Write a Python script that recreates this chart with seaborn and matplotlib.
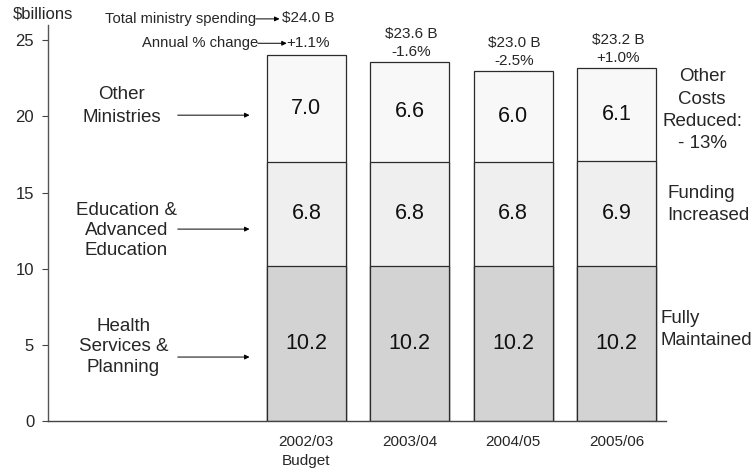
import matplotlib
matplotlib.use("Agg")
import matplotlib.pyplot as plt
import seaborn as sns
import pandas as pd

# values ($ billions)
years = ["2002/03", "2003/04", "2004/05", "2005/06"]
year_labels = ["2002/03\nBudget", "2003/04", "2004/05", "2005/06"]
health = [10.2, 10.2, 10.2, 10.2]
education = [6.8, 6.8, 6.8, 6.9]
other = [7.0, 6.6, 6.0, 6.1]
total_labels = ["$24.0 B", "$23.6 B", "$23.0 B", "$23.2 B"]
pct_change = ["+1.1%", "-1.6%", "-2.5%", "+1.0%"]

C_HEALTH = "#d3d3d3"
C_EDU = "#efefef"
C_OTHER = "#f8f8f8"
EDGE = "#2b2b2b"

sns.set_theme(style="ticks")
plt.rcParams["font.family"] = ["Liberation Sans", "DejaVu Sans"]

df = pd.DataFrame({"year": years, "health": health,
                   "education": education, "other": other})
df["edu_top"] = df["health"] + df["education"]
df["top"] = df["edu_top"] + df["other"]

fig = plt.figure(figsize=(7.55, 4.76), dpi=100)
ax = fig.add_axes([0.0636, 0.1155, 0.8185, 0.832])

# stacked look: draw cumulative heights from the top layer down
for col, color in [("top", C_OTHER), ("edu_top", C_EDU), ("health", C_HEALTH)]:
    sns.barplot(data=df, x="year", y=col, color=color, saturation=1,
                width=0.765, edgecolor=EDGE, linewidth=0.9, ax=ax)

# segment values
for i, row in df.iterrows():
    for bottom, val in [(0, row["health"]), (row["health"], row["education"]),
                        (row["edu_top"], row["other"])]:
        ax.text(i, bottom + val / 2, f"{val:.1f}", ha="center", va="center",
                fontsize=15.5, color="#111111")

# totals and % change above bars
for i, row in df.iterrows():
    if i == 0:
        off_tot, off_pct = 37, 12
    else:
        off_tot, off_pct = 28, 10
    ax.annotate(total_labels[i], (i, row["top"]), xytext=(1, off_tot * 0.72),
                textcoords="offset points", ha="center", va="center",
                fontsize=11, annotation_clip=False)
    ax.annotate(pct_change[i], (i, row["top"]), xytext=(1, off_pct * 0.72),
                textcoords="offset points", ha="center", va="center",
                fontsize=11, annotation_clip=False)

arrow = dict(arrowstyle="-|>", lw=0.7, color="black", mutation_scale=7,
             shrinkA=0, shrinkB=0)
ax.text(-0.49, 26.4, "Total ministry spending", ha="right", va="center",
        fontsize=10.6, clip_on=False)
ax.annotate("", xy=(-0.26, 26.4), xytext=(-0.49, 26.4), arrowprops=arrow,
            annotation_clip=False)
ax.text(-0.47, 24.8, "Annual % change", ha="right", va="center",
        fontsize=10.6, clip_on=False)
ax.annotate("", xy=(-0.19, 24.8), xytext=(-0.47, 24.8), arrowprops=arrow,
            annotation_clip=False)

# category labels with arrows on the left
left_labels = [("Other\nMinistries", -1.79, 20.7, 20.08, 1.45),
               ("Education &\nAdvanced\nEducation", -1.74, 12.5, 12.6, 1.25),
               ("Health\nServices &\nPlanning", -1.77, 4.86, 4.2, 1.25)]
for text, x, y, ya, ls in left_labels:
    ax.text(x, y, text, ha="center", va="center", fontsize=13.5,
            linespacing=ls)
    ax.annotate("", xy=(-0.55, ya), xytext=(-1.245, ya), arrowprops=arrow)

# notes on the right
ax.text(3.83, 20.4, "Other\nCosts\nReduced:\n- 13%", ha="center", va="center",
        fontsize=13.5, linespacing=1.42, clip_on=False)
ax.text(3.49, 14.2, "Funding\nIncreased", ha="left", va="center",
        fontsize=13.5, linespacing=1.38, clip_on=False)
ax.text(3.43, 6.0, "Fully\nMaintained", ha="left", va="center",
        fontsize=13.5, linespacing=1.42, clip_on=False)

fig.text(0.017, 0.97, "$billions", ha="left", va="center", fontsize=12)

ax.set_xlim(-2.5, 3.48)
ax.set_ylim(0, 26)
ax.set_yticks(range(0, 26, 5))
ax.set_xticks(range(len(years)))
ax.set_xticklabels(year_labels)
for lab in ax.get_xticklabels():
    lab.set_linespacing(1.5)
ax.set_xlabel("")
ax.set_ylabel("")
ax.tick_params(axis="x", length=0, pad=10, labelsize=11)
ax.tick_params(axis="y", length=4, width=0.8, pad=6, labelsize=12,
               color="#444444")
sns.despine(ax=ax)
ax.spines["left"].set_color("#555555")
ax.spines["bottom"].set_color("#444444")
ax.spines["left"].set_linewidth(1.0)
ax.spines["bottom"].set_linewidth(1.0)

fig.savefig("out.png", dpi=100)
